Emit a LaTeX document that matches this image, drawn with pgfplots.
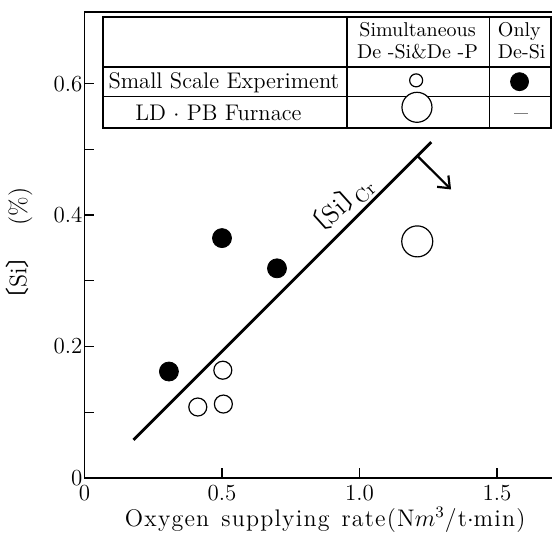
\documentclass[border=0pt]{standalone}
\usepackage{fontspec}
\usepackage{pgfplots}
\pgfplotsset{compat=1.18}
\usetikzlibrary{arrows.meta}
\newfontfamily\cjk{Noto Sans CJK JP}
\newfontfamily\spaced[LetterSpace=5]{Latin Modern Roman}
\newcommand{\lb}{{\cjk 〔}}
\newcommand{\rb}{{\cjk 〕}}
\begin{document}
\begin{tikzpicture}
\begin{axis}[name=ax,
  scale only axis, width=233.75pt, height=233pt,
  xmin=0, xmax=1.70, ymin=0, ymax=0.709,
  axis x line*=bottom, axis y line*=left,
  axis line style={-, line width=0.8pt},
  tick align=inside,
  xtick={0,0.5,1.0,1.5}, xticklabels={0,0.5,1.0,1.5},
  ytick={0,0.2,0.4,0.6}, yticklabels={0,0.2,0.4,0.6},
  minor ytick={0.1,0.3,0.5},
  major tick length=5pt, minor tick length=5pt,
  tick style={line width=0.6pt, black},
  tick label style={font=\fontsize{11.5}{13}\selectfont},
  yticklabel style={xshift=2.5pt},
  every axis x label/.style={at={(axis description cs:0.515,0)}, anchor=center, yshift=-21pt, font=\fontsize{12}{14}\spaced},
  every axis y label/.style={at={(axis description cs:0,0.49)}, xshift=-32.75pt, rotate=90, anchor=center, font=\fontsize{12}{14}\selectfont},
  xlabel={Oxygen\hspace{0.5em}supplying\hspace{0.5em}rate(N$m^3$/t$\cdot$min)},
  ylabel={\lb Si\rb\hspace{0.8em}(\%)},
  clip=false,
]
% top frame line
\draw[line width=0.8pt] (rel axis cs:0,1) -- (rel axis cs:1,1);
% table
\draw[line width=1.1pt] (axis cs:0.0665,0.5328) rectangle (axis cs:1.696,0.7016);
\draw[line width=0.7pt] (axis cs:0.0665,0.6256) -- (axis cs:1.696,0.6256);
\draw[line width=0.7pt] (axis cs:0.0665,0.580) -- (axis cs:1.696,0.580);
\draw[line width=0.7pt] (axis cs:0.955,0.5328) -- (axis cs:0.955,0.7016);
\draw[line width=0.7pt] (axis cs:1.473,0.5328) -- (axis cs:1.473,0.7016);
\node[font=\fontsize{10}{11}\selectfont, align=center] at (axis cs:1.211,0.665) {Simultaneous\\De -Si\&De -P};
\node[font=\fontsize{10}{11}\selectfont, align=left, anchor=west, inner sep=0pt] at (axis cs:1.502,0.665) {Only\\De-Si};
\node[font=\fontsize{11.3}{13}\selectfont] at (axis cs:0.507,0.602) {Small Scale Experiment};
\node[font=\fontsize{11.3}{13}\selectfont] at (axis cs:0.487,0.555) {LD $\cdot$ PB Furnace};
% table symbols
\addplot[only marks, mark=*, mark size=3.25pt, mark options={fill=white,draw=black,line width=0.6pt}] coordinates {(1.206,0.605)};
\addplot[only marks, mark=*, mark size=7.5pt, mark options={fill=white,draw=black,line width=0.6pt}] coordinates {(1.209,0.564)};
\addplot[only marks, mark=*, mark size=4.5pt, mark options={fill=black,draw=black}] coordinates {(1.582,0.603)};
\addplot[gray, line width=0.5pt] coordinates {(1.562,0.555) (1.612,0.555)};
% data
\addplot[only marks, mark=*, mark size=4.75pt, mark options={fill=black,draw=black}] coordinates {(0.307,0.162) (0.50,0.365) (0.70,0.319)};
\addplot[only marks, mark=*, mark size=4.5pt, mark options={fill=white,draw=black,line width=0.6pt}] coordinates {(0.503,0.164) (0.412,0.108) (0.505,0.1125)};
\addplot[only marks, mark=*, mark size=7.75pt, mark options={fill=white,draw=black,line width=0.6pt}] coordinates {(1.21,0.360)};
\addplot[line width=1.4pt] coordinates {(0.178,0.058) (1.261,0.511)};
\addplot[-{Straight Barb[length=5pt,width=8pt]}, line width=1.1pt] coordinates {(1.212,0.4895) (1.333,0.439)};
\node[rotate=42, font=\fontsize{13}{15}\selectfont] at (axis cs:0.920,0.410) {\lb Si\rb\kern-0.45em\raisebox{-2.5pt}{\fontsize{9.5}{10}\selectfont Cr}};
\end{axis}
\pgfresetboundingbox
\path[use as bounding box] ([shift={(-42.25pt,-27pt)}]ax.south west) rectangle ([shift={(234.25pt,239pt)}]ax.south west);
\end{tikzpicture}
\end{document}
